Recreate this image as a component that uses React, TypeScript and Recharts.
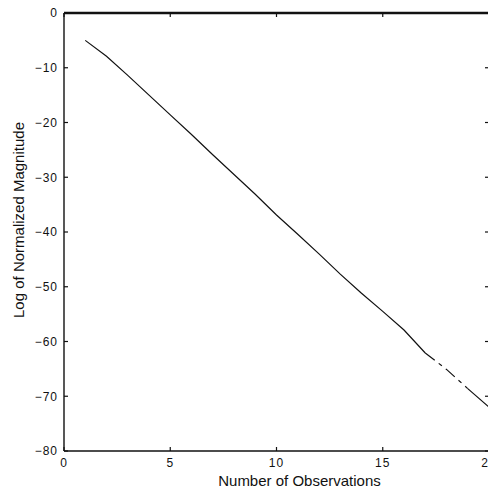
import React from 'react';
import { LineChart, Line, XAxis, YAxis, Label } from 'recharts';

const observations = [1, 2, 3, 4, 5, 6, 7, 8, 9, 10, 11, 12, 13, 14, 15, 16, 17, 18, 19, 20];
const logMagnitude = [-5.0, -7.9, -11.4, -15.0, -18.6, -22.2, -25.9, -29.5, -33.1, -36.9, -40.4, -44.0, -47.7, -51.2, -54.5, -57.9, -62.1, -65.1, -68.6, -72.0];
const brokenFrom = 17;
const brokenTo = 19;
const xTicks = [0, 5, 10, 15, 20];
const yTicks = [0, -10, -20, -30, -40, -50, -60, -70, -80];
const xTitle = 'Number  of  Observations';
const yTitle = 'Log  of  Normalized  Magnitude';

const data = observations.map((x, i) => ({
  x,
  solid: x > brokenFrom && x < brokenTo ? null : logMagnitude[i],
  dashed: x >= brokenFrom && x <= brokenTo ? logMagnitude[i] : null,
}));

const FONT = '"Liberation Sans", Arial, sans-serif';
const INK = '#111';
const TL = 4;

const fmt = (v: number) => String(v).replace('-', '\u2212');

const BottomTick = (props: any) => {
  const { x, y, payload } = props;
  return (
    <g>
      <line x1={x} y1={y} x2={x} y2={y - TL} stroke={INK} strokeWidth={1.2} />
      <text x={x} y={y + 16} textAnchor="middle" fontFamily={FONT} fontSize={12} letterSpacing={1} fill={INK}>
        {fmt(payload.value)}
      </text>
    </g>
  );
};

const TopTick = (props: any) => {
  const { x, y } = props;
  return <line x1={x} y1={y} x2={x} y2={y + TL} stroke={INK} strokeWidth={1.2} />;
};

const LeftTick = (props: any) => {
  const { x, y, payload } = props;
  return (
    <g>
      <line x1={x} y1={y} x2={x + TL} y2={y} stroke={INK} strokeWidth={1.2} />
      <text x={x - 6} y={y} dy="0.36em" textAnchor="end" fontFamily={FONT} fontSize={12} letterSpacing={1} fill={INK}>
        {fmt(payload.value)}
      </text>
    </g>
  );
};

const RightTick = (props: any) => {
  const { x, y } = props;
  return <line x1={x} y1={y} x2={x - TL} y2={y} stroke={INK} strokeWidth={1.2} />;
};

const axisLine = { stroke: INK, strokeWidth: 1.4 };

export default function App() {
  return (
    <div style={{ marginTop: -8, marginLeft: -8, width: 496, height: 492 }}>
      <LineChart width={496} height={492} data={data} margin={{ top: 12, right: 6, bottom: 0, left: 0 }}>
        <XAxis
          dataKey="x"
          type="number"
          domain={[0, 20]}
          ticks={xTicks}
          height={41}
          tickSize={0}
          tickMargin={0}
          tickLine={false}
          tick={<BottomTick />}
          axisLine={axisLine}
          interval={0}
        >
          <Label
            content={(props: any) => {
              const vb = props.viewBox || {};
              return (
                <text
                  x={vb.x + vb.width / 2 + 23}
                  y={vb.y + vb.height - 6}
                  textAnchor="middle"
                  fontFamily={FONT}
                  fontSize={15}
                  fill={INK}
                >
                  {xTitle}
                </text>
              );
            }}
          />
        </XAxis>
        <XAxis
          xAxisId="top"
          dataKey="x"
          type="number"
          orientation="top"
          domain={[0, 20]}
          ticks={xTicks}
          height={1}
          tickSize={0}
          tickMargin={0}
          tickLine={false}
          tick={<TopTick />}
          axisLine={{ stroke: INK, strokeWidth: 2.6 }}
          interval={0}
        />
        <YAxis
          type="number"
          domain={[-80, 0]}
          ticks={yTicks}
          width={64}
          tickSize={0}
          tickMargin={0}
          tickLine={false}
          tick={<LeftTick />}
          axisLine={axisLine}
          interval={0}
        >
          <Label
            content={() => (
              <text
                x={18}
                y={220}
                transform="rotate(-90 18 220)"
                textAnchor="middle"
                dominantBaseline="central"
                fontFamily={FONT}
                fontSize={15}
                fill={INK}
              >
                {yTitle}
              </text>
            )}
          />
        </YAxis>
        <YAxis
          yAxisId="right"
          orientation="right"
          type="number"
          domain={[-80, 0]}
          ticks={yTicks}
          width={1}
          tickSize={0}
          tickMargin={0}
          tickLine={false}
          tick={<RightTick />}
          axisLine={axisLine}
          interval={0}
        />
        <Line
          dataKey="solid"
          type="linear"
          stroke={INK}
          strokeWidth={1.2}
          dot={false}
          isAnimationActive={false}
        />
        <Line
          dataKey="dashed"
          type="linear"
          stroke={INK}
          strokeWidth={1.2}
          strokeDasharray="12 5 4 5"
          dot={false}
          isAnimationActive={false}
        />
        <Line
          yAxisId="right"
          xAxisId="top"
          dataKey="solid"
          type="linear"
          stroke="none"
          strokeOpacity={0}
          dot={false}
          activeDot={false}
          legendType="none"
          isAnimationActive={false}
        />
      </LineChart>
    </div>
  );
}
